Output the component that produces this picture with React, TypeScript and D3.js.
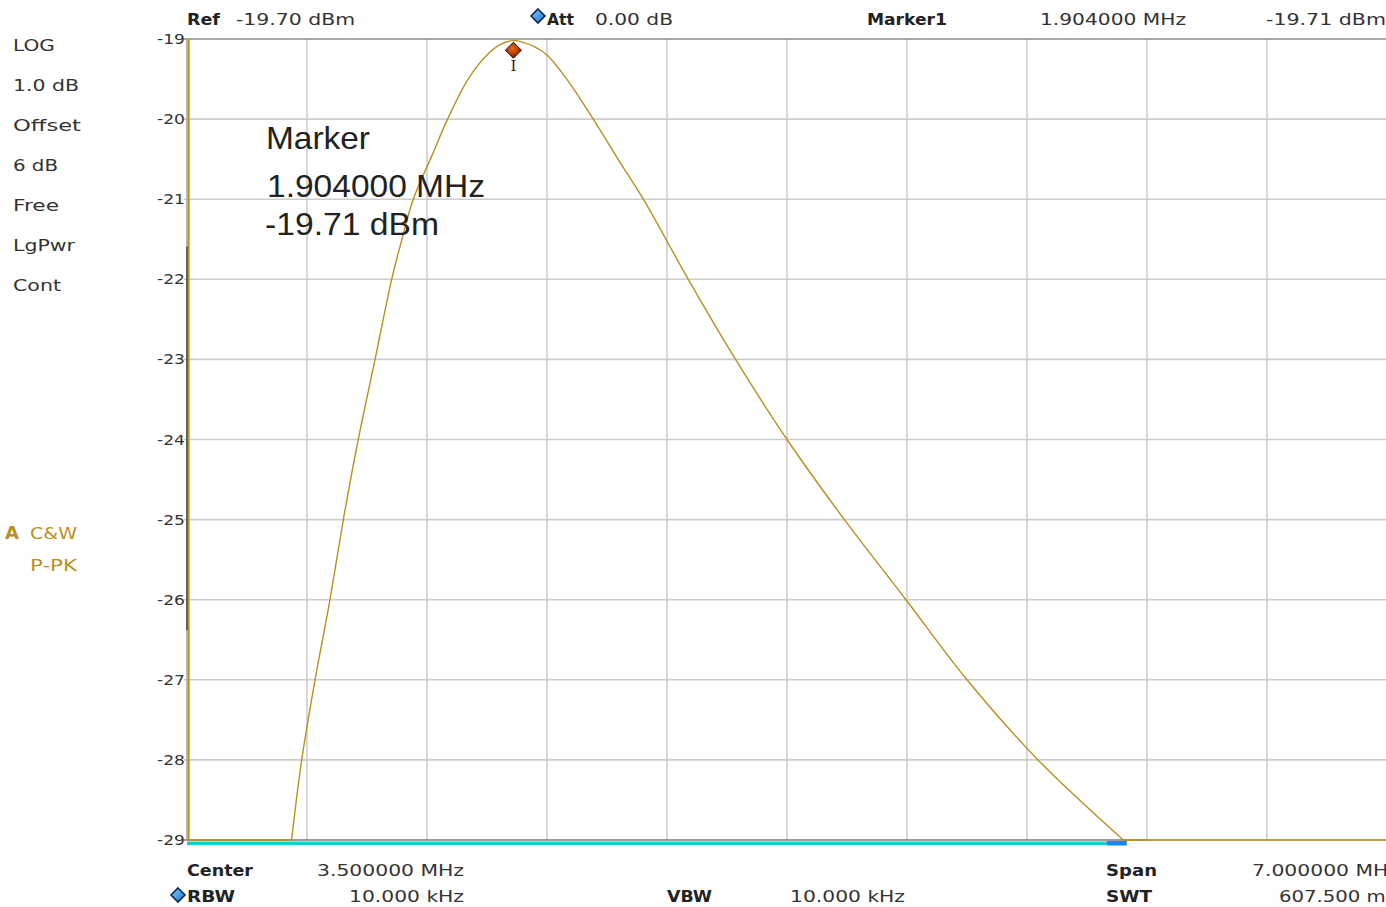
import React from "react";
import * as d3 from "d3";

// ---------- data ----------
const yTicks = [-19, -20, -21, -22, -23, -24, -25, -26, -27, -28, -29];
const xGridMHz = [0.7, 1.4, 2.1, 2.8, 3.5, 4.2, 4.9, 5.6, 6.3, 7.0];

// left-edge trace segment (start of sweep)
const edgeFreq = [0.01, 0.01];
const edgeLevel = [-19.0, -29.0];

// main sweep trace
const traceFreq = [
  0.01, 0.61, 0.669, 0.747, 0.834, 0.912, 0.999, 1.097, 1.194, 1.254,
  1.32, 1.43, 1.52, 1.64, 1.75, 1.826, 1.904, 2.02, 2.1, 2.215, 2.37,
  2.514, 2.662, 2.924, 3.2, 3.5, 3.835, 4.194, 4.55, 4.964, 5.462, 7.0,
];
const traceLevel = [
  -29.0, -29.0, -28.0, -27.0, -26.0, -25.0, -24.0, -23.0, -22.0, -21.5,
  -21.0, -20.45, -20.0, -19.5, -19.2, -19.07, -19.02, -19.09, -19.2, -19.5, -20.0,
  -20.5, -21.0, -22.0, -23.0, -24.0, -25.0, -26.0, -27.0, -28.0, -29.0, -29.0,
];

const markerFreq = 1.904;
const markerPlotLevel = -19.14;

const sideLabels = ["LOG", "1.0 dB", "Offset", "6 dB", "Free", "LgPwr", "Cont"];
const sideWidths = [42, 66, 68, 45, 46, 62, 48];
const traceLabels = ["C&W", "P-PK"];

const markerTexts = ["Marker", "1.904000 MHz", "-19.71 dBm"];

// ---------- layout ----------
const W = 1386;
const H = 907;
const X0 = 187;
const X1 = 1387;
const Y0 = 39;
const Y1 = 840;

const GOLD = "#b8901e";
const TXT = "#333";

export default function App() {
  const x = d3.scaleLinear().domain([0, 7]).range([X0, X1]);
  const y = d3.scaleLinear().domain([-29, -19]).range([Y1, Y0]);
  const pts: [number, number][] = traceFreq.map((f, i) => [f, traceLevel[i]]);
  const edge: [number, number][] = edgeFreq.map((f, i) => [f, edgeLevel[i]]);
  // split into flat floor parts and the curved response
  const floor = d3.min(traceLevel) as number;
  let a = 0;
  while (a + 1 < pts.length && pts[a + 1][1] === floor) a++;
  let b = pts.length - 1;
  while (b - 1 > a && pts[b - 1][1] === floor) b--;
  const curvePts = pts.slice(a, b + 1);
  const leftFlat = pts.slice(0, a + 1);
  const rightFlat = pts.slice(b);

  const smooth = d3
    .line<[number, number]>()
    .x((d) => x(d[0]))
    .y((d) => y(d[1]))
    .curve(d3.curveCatmullRom.alpha(0.5));
  const straight = d3
    .line<[number, number]>()
    .x((d) => x(d[0]))
    .y((d) => y(d[1]));

  const mx = x(markerFreq);
  const my = y(markerPlotLevel);
  const reg = "DejaVu Sans";
  const bold = "DejaVu Sans";

  const T = (
    s: string,
    px: number,
    py: number,
    len: number,
    opts: { b?: boolean; fill?: string; size?: number } = {}
  ) => (
    <text
      x={px}
      y={py}
      textLength={len}
      lengthAdjust="spacingAndGlyphs"
      fontFamily={opts.b ? bold : reg}
      fontWeight={opts.b ? "bold" : "normal"}
      fontSize={opts.size ?? 16}
      fill={opts.fill ?? TXT}
    >
      {s}
    </text>
  );

  const diamond = (cx: number, cy: number, r: number) =>
    `M${cx},${cy - r}L${cx + r},${cy}L${cx},${cy + r}L${cx - r},${cy}Z`;

  return (
    <svg
      width={W}
      height={H}
      style={{ position: "absolute", left: 0, top: 0, background: "#fff" }}
    >
      <defs>
        <radialGradient id="mk" cx="45%" cy="40%" r="60%">
          <stop offset="0%" stopColor="#f06a10" />
          <stop offset="60%" stopColor="#b03a00" />
          <stop offset="100%" stopColor="#5a1800" />
        </radialGradient>
        <linearGradient id="bd" x1="0" y1="0" x2="1" y2="1">
          <stop offset="0%" stopColor="#7fd0ff" />
          <stop offset="100%" stopColor="#1a70c8" />
        </linearGradient>
      </defs>
      <rect x={0} y={0} width={W} height={H} fill="#fff" />

      {/* grid */}
      {yTicks.slice(1, -1).map((t) => (
        <line key={"h" + t} x1={184} x2={W} y1={y(t)} y2={y(t)} stroke="#cdcdcd" strokeWidth={1.6} />
      ))}
      {xGridMHz.map((f) => (
        <line key={"v" + f} x1={x(f)} x2={x(f)} y1={Y0} y2={Y1} stroke="#cdcdcd" strokeWidth={1.6} />
      ))}
      {/* frame */}
      <line x1={184} x2={W} y1={Y0} y2={Y0} stroke="#8c8c8c" strokeWidth={1.6} />
      <line x1={X0} x2={X0} y1={Y0} y2={Y1} stroke="#a8a8a8" strokeWidth={1.6} />
      <line x1={X0} x2={X0} y1={y(-21.59)} y2={y(-26.38)} stroke="#5e5e5e" strokeWidth={2} />
      <line x1={184} x2={x(5.6)} y1={Y1} y2={Y1} stroke="#7a7a7a" strokeWidth={1.6} />
      <line x1={x(5.6)} x2={W} y1={Y1} y2={Y1} stroke="#b0b0b0" strokeWidth={1.6} />

      {/* bottom bar */}
      <rect x={X0} y={Y1 + 1.5} width={x(5.365) - X0} height={3.6} fill="#19cccc" />
      <rect x={x(5.365)} y={Y1 + 1} width={x(5.482) - x(5.365)} height={4.5} fill="#1b86f0" />

      {/* tick labels */}
      {yTicks.map((t) => (
        <text
          key={"t" + t}
          x={157}
          y={y(t) + 5}
          textLength={28}
          lengthAdjust="spacingAndGlyphs"
          fontFamily={reg}
          fontSize={14}
          fill={TXT}
        >
          {String(t)}
        </text>
      ))}

      {/* trace */}
      <path d={straight(edge) ?? ""} fill="none" stroke={GOLD} strokeWidth={1.8} />
      <path d={straight(leftFlat) ?? ""} fill="none" stroke={GOLD} strokeWidth={1.6} />
      <path d={smooth(curvePts) ?? ""} fill="none" stroke={GOLD} strokeWidth={1.4} />
      <path d={straight(rightFlat) ?? ""} fill="none" stroke={GOLD} strokeWidth={1.6} />

      {/* marker */}
      <path d={diamond(mx, my, 8)} fill="url(#mk)" stroke="#2a0a00" strokeWidth={1} />
      <text x={mx} y={71} textAnchor="middle" fontFamily="DejaVu Serif" fontSize={15} fill="#222">
        I
      </text>

      {/* marker annotation */}
      {markerTexts.map((s, i) => (
        <text
          key={s}
          x={[266, 267, 265][i]}
          y={[149, 197, 235][i]}
          textLength={[104, 218, 174][i]}
          lengthAdjust="spacingAndGlyphs"
          fontFamily="Liberation Sans"
          fontSize={32}
          fill="#222"
        >
          {s}
        </text>
      ))}

      {/* side labels */}
      {sideLabels.map((s, i) => (
        <React.Fragment key={s}>{T(s, 13, 51 + i * 40, sideWidths[i])}</React.Fragment>
      ))}
      {T("A", 5, 539, 14, { b: true, fill: GOLD, size: 17 })}
      {T(traceLabels[0], 30, 539, 47, { fill: GOLD })}
      {T(traceLabels[1], 30, 571, 47, { fill: GOLD })}

      {/* header */}
      {T("Ref", 187, 25, 33, { b: true, fill: "#222" })}
      {T("-19.70 dBm", 236, 25, 119)}
      <path d={diamond(538, 16, 7)} fill="url(#bd)" stroke="#0a2a5a" strokeWidth={1.6} />
      {T("Att", 547, 25, 27, { b: true, fill: "#222" })}
      {T("0.00 dB", 595, 25, 78)}
      {T("Marker1", 867, 25, 80, { b: true, fill: "#222" })}
      {T("1.904000 MHz", 1040, 25, 146)}
      {T("-19.71 dBm", 1266, 25, 120)}

      {/* footer */}
      {T("Center", 187, 876, 66, { b: true, fill: "#222" })}
      {T("3.500000 MHz", 317, 876, 147)}
      <path d={diamond(178, 895, 7)} fill="url(#bd)" stroke="#0a2a5a" strokeWidth={1.6} />
      {T("RBW", 187, 902, 48, { b: true, fill: "#222" })}
      {T("10.000 kHz", 349, 902, 115)}
      {T("VBW", 667, 902, 45, { b: true, fill: "#222" })}
      {T("10.000 kHz", 790, 902, 115)}
      {T("Span", 1106, 876, 51, { b: true, fill: "#222" })}
      {T("7.000000 MHz", 1252, 876, 147)}
      {T("SWT", 1106, 902, 46, { b: true, fill: "#222" })}
      {T("607.500 ms", 1279, 902, 117)}
    </svg>
  );
}
